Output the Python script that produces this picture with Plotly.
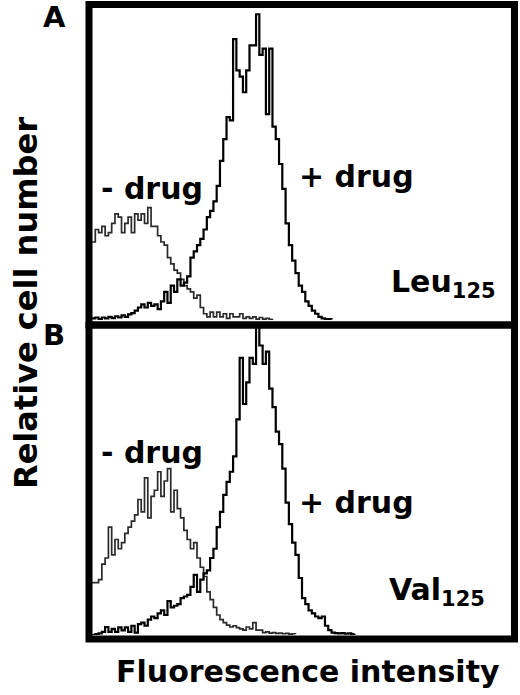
import plotly.graph_objects as go

# ---- data (relative cell number per fluorescence channel) ----
channels = list(range(128))

leu_minus = [25, 29, 28, 30, 27, 28, 31, 34, 33, 28, 31, 33, 28, 34, 32, 34, 31, 36, 30, 30,
             27, 25, 24, 20, 18, 16, 15, 13, 11, 10, 9, 7, 8, 4, 2, 1, 2.5, 1, 2.5, 1,
             2, 0.5, 2, 1, 1, 2, 0.5, 1, 0.5, 1, 0.3, 0.8, 0.3, 0.5, 0.2, 0.4]
leu_plus = [0.5, 0.8, 0.3, 0.8, 0.5, 1.0, 0.6, 1.2, 0.8, 1.5, 1.0, 1.8, 2.2, 3.0, 4.0, 5.0, 4.0, 5.5, 4.5, 5.0,
            3.5, 6.0, 9.0, 5.5, 11, 9, 13, 11, 12, 14, 20, 22, 24, 26, 29, 33, 35, 38, 43, 51,
            58, 65, 64, 90, 80, 78, 73, 80, 88, 88, 98, 85, 87, 66, 87, 62, 58, 50, 42, 31,
            24, 19, 15, 11, 9, 6, 4.5, 3, 2, 1, 0.5, 0.3, 0.3, 0.2]
val_minus = [17, 17, 18, 23, 25, 35, 26, 31, 28, 30, 33, 35, 37, 39, 44, 40, 51, 38, 45, 47,
             53, 45, 50, 54, 40, 47, 41, 38, 34, 31, 28, 30, 25, 22, 19, 14, 11.5, 9, 6.5, 5,
             4, 3.2, 2.6, 3, 2.4, 2, 1.6, 2.6, 2, 4, 1.6, 1.6, 0.8, 1, 0.6, 0.8, 0.5, 0.6,
             0.4, 0.5, 0.3, 0.4, 0.3]
val_plus = [0, 0.3, 0.5, 1, 2.6, 1, 2, 1, 2.5, 1.5, 2.5, 1, 3, 0.8, 3.5, 4, 3, 5, 6, 5.5,
            7, 8, 6.5, 11, 9, 9.5, 10, 12, 12.5, 13, 15.6, 19.5, 14, 18, 20, 21, 25, 28, 35, 40,
            45.5, 49.7, 53, 58, 70, 90, 75, 82, 90, 88, 100, 94, 88, 92, 80, 74, 66, 62, 54, 43,
            36, 30, 26, 18.5, 12, 10, 8, 7, 6, 5.5, 6, 3, 1.6, 0.8, 0.6, 0.5, 0.6, 0.4, 0.5,
            0.3, 0.4]

panel_letters = ["A", "B"]
peptides = ["Leu", "Val"]
sub_label = "125"

W, H = 520, 695
def px(x):
    return x / W
def py(y):
    return 1 - y / H

fig = go.Figure()

minus_style = dict(color="#2a2a2a", width=1.7, shape="hv")
plus_style = dict(color="#000000", width=2.2, shape="hv")

fig.add_trace(go.Scatter(x=channels[:len(leu_minus)], y=leu_minus, mode="lines",
                         line=minus_style, xaxis="x", yaxis="y", showlegend=False))
fig.add_trace(go.Scatter(x=channels[:len(leu_plus)], y=leu_plus, mode="lines",
                         line=plus_style, xaxis="x", yaxis="y", showlegend=False))
fig.add_trace(go.Scatter(x=channels[:len(val_minus)], y=val_minus, mode="lines",
                         line=minus_style, xaxis="x2", yaxis="y2", showlegend=False))
fig.add_trace(go.Scatter(x=channels[:len(val_plus)], y=val_plus, mode="lines",
                         line=plus_style, xaxis="x2", yaxis="y2", showlegend=False))

ax_common = dict(showgrid=False, zeroline=False, showticklabels=False, ticks="",
                 showline=False, range=[0, 128], domain=[px(92), px(512)], fixedrange=True)
ay_common = dict(showgrid=False, zeroline=False, showticklabels=False, ticks="",
                 showline=False, range=[0, 100], fixedrange=True)

fig.update_layout(
    width=W, height=H, autosize=False,
    margin=dict(l=0, r=0, t=0, b=0),
    paper_bgcolor="white", plot_bgcolor="white",
    xaxis=dict(**ax_common, anchor="y"),
    yaxis=dict(**ay_common, domain=[py(320), py(8)], anchor="x"),
    xaxis2=dict(**ax_common, anchor="y2"),
    yaxis2=dict(**ay_common, domain=[py(635), py(327)], anchor="x2"),
)

# frames
frame = dict(type="rect", xref="paper", yref="paper", line=dict(color="black", width=7),
             fillcolor="rgba(0,0,0,0)", layer="above")
fig.add_shape(**frame, x0=px(89), x1=px(514.5), y0=py(4.5), y1=py(325))
fig.add_shape(**frame, x0=px(89), x1=px(514.5), y0=py(325), y1=py(639))

FONT = "DejaVu Sans, Verdana, sans-serif"
def ann(text, x, y, size, xanchor="left", textangle=0):
    fig.add_annotation(text=text, x=px(x), y=py(y), xref="paper", yref="paper",
                       xanchor=xanchor, yanchor="middle", showarrow=False,
                       textangle=textangle,
                       font=dict(family=FONT, size=size, color="black"))

ann("<b>%s</b>" % panel_letters[0], 54, 17, 29, "center")
ann("<b>%s</b>" % panel_letters[1], 54, 335, 29, "center")

ann("<b>- drug</b>", 99, 188, 30)
ann("<b>+ drug</b>", 297, 176, 30)
ann("<b>%s<sub>%s</sub></b>" % (peptides[0], sub_label), 389, 283, 30)

ann("<b>- drug</b>", 99, 452, 30)
ann("<b>+ drug</b>", 297, 502, 30)
ann("<b>%s<sub>%s</sub></b>" % (peptides[1], sub_label), 387, 591, 30)

ann("<b>Fluorescence intensity</b>", 308, 671, 30, "center")
ann("<b>Relative cell number</b>", 26, 303, 32, "center", textangle=-90)

fig.write_html("out.html",
               config={"displayModeBar": False, "staticPlot": True},
               post_script="document.body.style.margin='0';document.body.style.overflow='hidden';")
